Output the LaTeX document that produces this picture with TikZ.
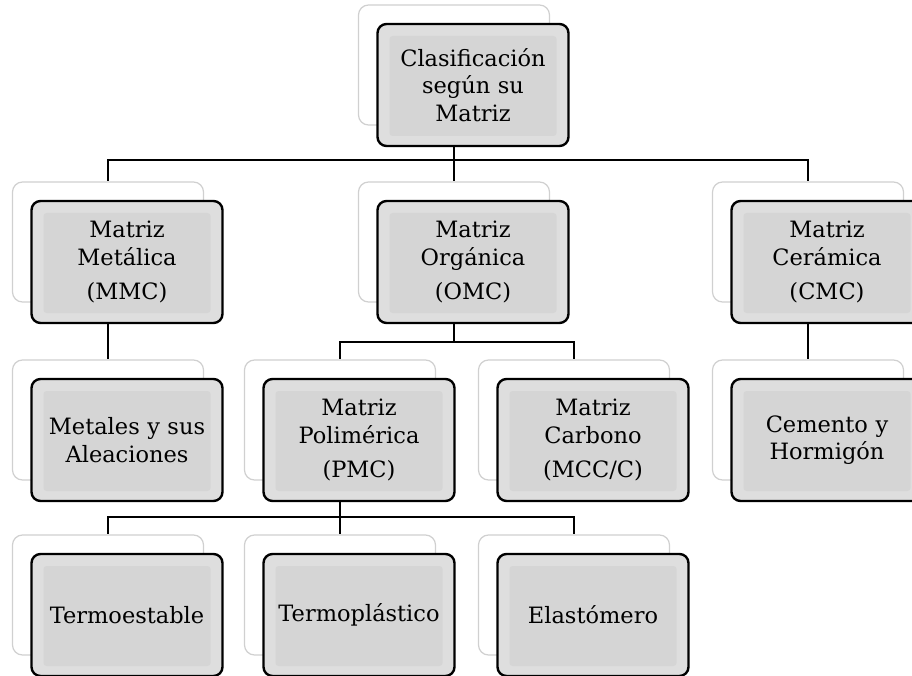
\documentclass[tikz,border=0pt]{standalone}
\usepackage{fontspec}
\setmainfont{DejaVu Serif}
\usepackage{tikz}
\usetikzlibrary{calc}
\pgfdeclarelayer{bg}
\pgfsetlayers{bg,main}
\definecolor{cardgray}{HTML}{DEDEDE}
\definecolor{bevelgray}{HTML}{D5D5D5}
\definecolor{rimgray}{HTML}{D0D0D0}
\tikzset{
  backbox/.style={draw=rimgray, line width=1.2pt, fill=white, rounded corners=10pt,
    minimum width=191pt, minimum height=120pt, inner sep=0pt},
  frontbox/.style={draw=black, line width=2.4pt, fill=cardgray, rounded corners=9pt,
    minimum width=191pt, minimum height=122pt, inner sep=0pt, text width=189pt, align=center,
    font=\fontsize{22.5}{27.5}\selectfont},
  bevel/.style={fill=bevelgray, rounded corners=3pt, minimum width=167pt, minimum height=100pt, inner sep=0pt},
  link/.style={line width=1.8pt}
}
% back card on bg layer, front card with bevel on main
\newcommand{\card}[4]{
  \begin{pgfonlayer}{bg}\node[backbox] (#1) at (#2,#3) {};\end{pgfonlayer}
  \node[frontbox] (#1f) at (#2+19,#3+20) {};
  \node[bevel] at (#2+19,#3+21) {};
  \node[frontbox, draw=none, fill=none] at (#2+19,#3+20) {#4};
}

\begin{document}
\begin{tikzpicture}[x=1pt, y=-1pt]
        \useasboundingbox (0,0) rectangle (912,676);

        % row1
        \card{top}{454}{65}{Clasificación\\según su\\Matriz}

        % row2
        \card{mmc}{108}{242}{Matriz\\Metálica\\[7pt](MMC)}
        \card{omc}{454}{242}{Matriz\\Orgánica\\[7pt](OMC)}
        \card{cmc}{808}{242}{Matriz\\Cerámica\\[7pt](CMC)}

        % row3
        \card{metales}{108}{420}{Metales y sus\\Aleaciones}
        \card{pmc}{340}{420}{Matriz\\Polimérica\\[7pt](PMC)}
        \card{carbono}{574}{420}{Matriz\\Carbono\\[7pt](MCC/C)}
        \card{cemento}{808}{420}{Cemento y\\Hormigón}

        % row4
        \card{termo}{108}{595}{Termoestable}
        \card{termopl}{340}{595}{Termoplástico}
        \card{elasto}{574}{595}{Elastómero}

        % links
        \coordinate (bar1) at (0,160);
        \coordinate (bar2) at (0,342);
        \coordinate (bar3) at (0,517);
        \begin{pgfonlayer}{bg}
        \draw[link] (top.south) -- (omc.north);
        \draw[link] (top.south |- bar1) -| (mmc.north);
        \draw[link] (top.south |- bar1) -| (cmc.north);
        \draw[link] (mmc.south) -- (metales.north);
        \draw[link] (cmc.south) -- (cemento.north);
        \draw[link] (omc.south) -- (omc.south |- bar2) -| (pmc.north);
        \draw[link] (omc.south |- bar2) -| (carbono.north);
        \draw[link] (pmc.south) -- (termopl.north);
        \draw[link] (pmc.south |- bar3) -| (termo.north);
        \draw[link] (pmc.south |- bar3) -| (elasto.north);
        \end{pgfonlayer}

    \end{tikzpicture}
\end{document}
